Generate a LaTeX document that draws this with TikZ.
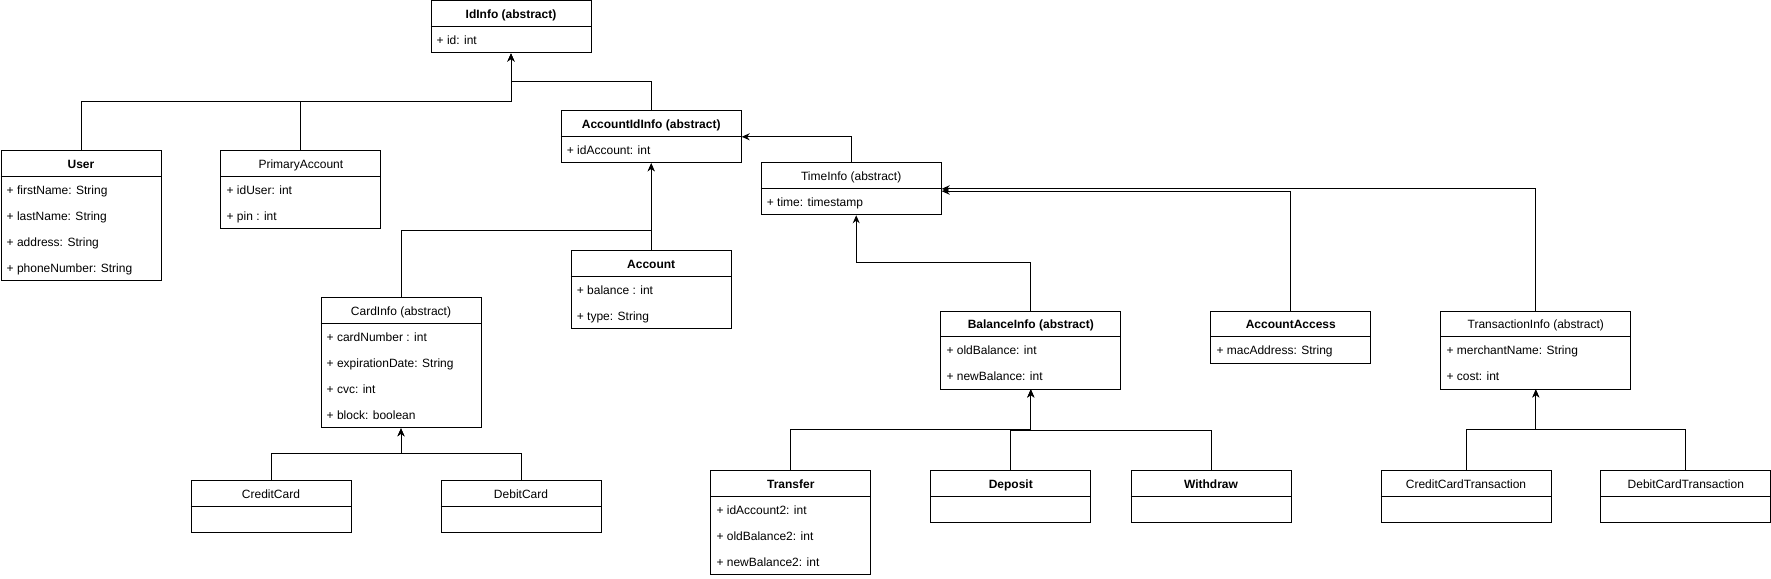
\documentclass[tikz,border=0pt]{standalone}
\usepackage{fontspec}
\setmainfont{Liberation Sans}
\usetikzlibrary{arrows.meta,calc}
\tikzset{
  box/.style={draw=black, line width=1pt, rectangle, inner sep=0pt, fill=white},
  hdr/.style={font=\fontsize{12}{14}\selectfont, inner sep=0pt, text=black, text height=12pt, text depth=1.5pt},
  attr/.style={font=\fontsize{12}{14}\selectfont, inner sep=0pt, anchor=west, text=black, text height=12pt, text depth=1.5pt},
  boxline/.style={draw=black, line width=1pt},
  edge/.style={draw=black, line width=1pt, -{Stealth[length=8pt,width=7pt]}}
}
% name, x, y, w, h, title, weight
\newcommand\umlbox[7]{%
  \node[box, minimum width=#4pt, minimum height=#5pt, anchor=north west] (#1) at (#2,#3) {};
  \node[hdr] (#1-t) at ([yshift=-13pt]#1.north) {#7#6};
  \draw[boxline] ([yshift=-26pt]#1.north west) -- ([yshift=-26pt]#1.north east);
}
\newcommand\umlrow[3]{%
  \node[attr] (#1-#2) at ([xshift=6pt,yshift={-39pt-26pt*(#2-1)}]#1.north west) {#3};
}
\begin{document}
\begin{tikzpicture}[x=1pt,y=-1pt]
\useasboundingbox (0,0) rectangle (1771,578);

% classes
\umlbox{idi}{430.5}{0.5}{160}{52}{IdInfo (abstract)}{\bfseries}
\umlrow{idi}{1}{+ id: int}

\umlbox{usr}{0.5}{150.3}{160}{130}{User}{\bfseries}
\umlrow{usr}{1}{+ firstName: String}
\umlrow{usr}{2}{+ lastName: String}
\umlrow{usr}{3}{+ address: String}
\umlrow{usr}{4}{+ phoneNumber: String}

\umlbox{pa}{220.4}{150.3}{160}{78}{PrimaryAccount}{\mdseries}
\umlrow{pa}{1}{+ idUser: int}
\umlrow{pa}{2}{+ pin : int}

\umlbox{aid}{560.7}{110.3}{180}{52}{AccountIdInfo (abstract)}{\bfseries}
\umlrow{aid}{1}{+ idAccount: int}

\umlbox{tim}{760.7}{162.3}{180}{52}{TimeInfo (abstract)}{\mdseries}
\umlrow{tim}{1}{+ time: timestamp}

\umlbox{acc}{570.7}{250.3}{160}{78}{Account}{\bfseries}
\umlrow{acc}{1}{+ balance : int}
\umlrow{acc}{2}{+ type: String}

\umlbox{card}{320.5}{297.3}{160}{130}{CardInfo (abstract)}{\mdseries}
\umlrow{card}{1}{+ cardNumber : int}
\umlrow{card}{2}{+ expirationDate: String}
\umlrow{card}{3}{+ cvc: int}
\umlrow{card}{4}{+ block: boolean}

\umlbox{cc}{190.5}{480.3}{160}{52}{CreditCard}{\mdseries}
\umlbox{dc}{440.5}{480.3}{160}{52}{DebitCard}{\mdseries}

\umlbox{bal}{940.3}{310.5}{180}{78}{BalanceInfo (abstract)}{\bfseries}
\umlrow{bal}{1}{+ oldBalance: int}
\umlrow{bal}{2}{+ newBalance: int}

\umlbox{aa}{1210.3}{310.5}{160}{52}{AccountAccess}{\bfseries}
\umlrow{aa}{1}{+ macAddress: String}

\umlbox{ti}{1440.3}{310.5}{190}{78}{TransactionInfo (abstract)}{\mdseries}
\umlrow{ti}{1}{+ merchantName: String}
\umlrow{ti}{2}{+ cost: int}

\umlbox{tr}{710.3}{470.3}{160}{104}{Transfer}{\bfseries}
\umlrow{tr}{1}{+ idAccount2: int}
\umlrow{tr}{2}{+ oldBalance2: int}
\umlrow{tr}{3}{+ newBalance2: int}

\umlbox{dep}{930.3}{470.3}{160}{52}{Deposit}{\bfseries}
\umlbox{wd}{1130.5}{470.3}{160}{52}{Withdraw}{\bfseries}
\umlbox{cct}{1380.5}{470.3}{170}{52}{CreditCardTransaction}{\mdseries}
\umlbox{dct}{1600.3}{470.3}{170}{52}{DebitCardTransaction}{\mdseries}

% connectors
\draw[edge] (usr.north) -- (usr.north |- 0,101.3) -| (idi.south);
\draw[edge] (pa.north) -- (pa.north |- 0,101.3) -| (idi.south);
\draw[edge] (aid.north) -- (aid.north |- 0,81.3) -| (idi.south);
\draw[edge] (tim.north) |- (aid.east);
\draw[edge] (acc.north) -- (aid.south);
\draw[edge] (card.north) -- (card.north |- 0,230) -| (aid.south);
\draw[edge] (cc.north) -- (cc.north |- 0,453.7) -| (card.south);
\draw[edge] (dc.north) -- (dc.north |- 0,453.7) -| (card.south);
\draw[edge] (bal.north) -- (bal.north |- 0,262.3) -| ([xshift=5pt]tim.south);
\draw[edge] (aa.north) |- ([yshift=-2.4pt]tim.east);
\draw[edge] (ti.north) |- (tim.east);
\draw[edge] (tr.north) -- (tr.north |- 0,429.7) -| (bal.south);
\draw[edge] (dep.north) -- (dep.north |- 0,430.7) -| (bal.south);
\draw[edge] (wd.north) -- (wd.north |- 0,430.7) -| (bal.south);
\draw[edge] (cct.north) -- (cct.north |- 0,429.3) -| (ti.south);
\draw[edge] (dct.north) -- (dct.north |- 0,429.3) -| (ti.south);
\end{tikzpicture}
\end{document}
